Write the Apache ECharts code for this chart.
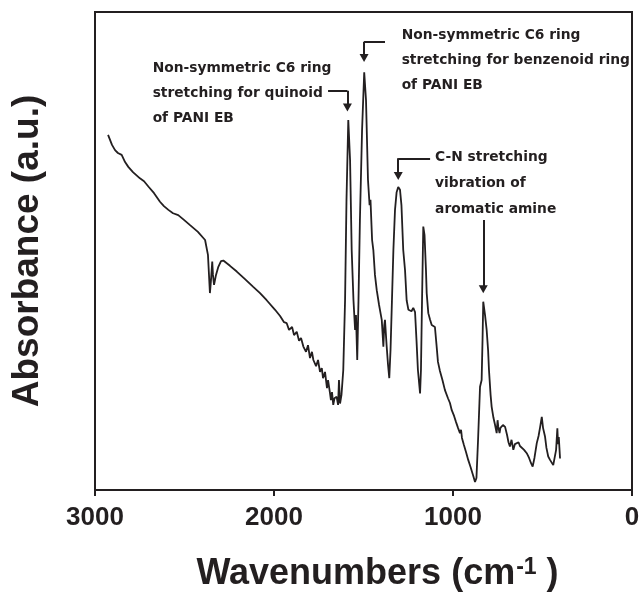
<!DOCTYPE html>
<html><head><meta charset="utf-8">
<script src="https://cdn.jsdelivr.net/npm/echarts@6/dist/echarts.min.js"></script>
<style>html,body{margin:0;padding:0;background:#fff}#c{width:641px;height:592px}</style>
</head><body><div id="c"></div>
<script>
// FTIR spectrum of PANI EB (wavenumber in cm^-1, absorbance in arbitrary units)
const wavenumbers = [2927,2905,2888,2872,2851,2832,2814,2788,2749,2726,2702,2670,2637,2615,2590,2564,2535,2503,2469,2425,2385,2376,2369,2358,2352,2345,2341,2335,2324,2311,2296,2283,2246,2208,2162,2116,2078,2041,1994,1966,1944,1929,1916,1899,1888,1873,1860,1849,1836,1821,1810,1799,1788,1780,1765,1754,1743,1733,1726,1715,1704,1698,1687,1682,1676,1669,1662,1650,1642,1637,1631,1623,1613,1603,1595,1585,1575,1566,1556,1547,1542,1535,1528,1520,1508,1496,1486,1475,1466,1461,1452,1445,1436,1426,1413,1398,1389,1384,1380,1371,1363,1356,1349,1341,1333,1324,1315,1306,1296,1288,1278,1268,1259,1249,1240,1232,1222,1212,1204,1196,1184,1179,1173,1166,1159,1151,1147,1138,1128,1119,1110,1101,1092,1084,1073,1059,1045,1028,1017,1007,994,983,972,961,955,950,939,927,915,902,888,877,869,860,849,840,835,831,821,812,804,799,790,784,774,765,756,751,747,740,735,728,721,709,698,690,682,673,663,654,644,634,626,616,603,588,575,564,555,545,532,522,514,504,497,486,478,468,458,450,440,430,424,417,413,409,406,402];
const absorbance = [74.3,72.2,71.1,70.5,70.1,68.6,67.6,66.5,65.2,64.6,63.5,62.1,60.3,59.4,58.6,57.9,57.5,56.5,55.4,54.0,52.3,51.9,49.2,41.2,43.9,47.8,45.0,42.9,45.0,46.7,47.9,48.0,46.9,45.7,44.1,42.5,41.2,39.7,37.7,36.4,35.1,34.9,33.5,34.1,32.4,33.1,31.2,31.8,30.0,28.9,30.3,27.6,28.9,27.2,25.9,27.2,24.7,25.5,23.4,24.7,21.3,23.0,20.2,18.8,20.5,17.8,19.2,19.5,17.8,23.0,18.1,19.9,25.1,39.7,60.7,77.4,69.0,50.2,39.7,33.5,36.6,27.2,39.7,56.5,75.3,87.4,81.6,64.9,59.6,60.7,52.3,50.2,45.0,41.8,38.7,35.6,30.0,34.5,35.6,30.3,26.2,23.4,29.3,39.7,50.2,58.6,62.3,63.4,62.8,59.6,50.2,46.0,39.7,37.7,38.1,37.4,38.1,37.2,31.4,25.1,20.2,25.1,39.7,55.1,53.3,46.0,41.2,37.0,35.6,34.5,34.9,34.1,30.3,26.8,24.9,23.0,20.9,19.2,18.2,16.7,15.5,14.2,13.0,11.9,12.6,10.9,9.4,7.9,6.3,4.8,3.1,1.7,2.5,10.5,21.6,23.0,31.4,39.4,36.6,33.5,29.3,25.1,19.9,17.4,15.1,13.6,11.9,14.6,13.2,11.9,13.0,12.6,13.6,13.2,11.5,10.0,9.1,10.5,8.4,9.6,9.8,10.0,9.2,9.1,8.4,7.7,6.7,5.6,4.9,6.7,9.8,11.3,13.0,15.3,13.0,11.2,8.8,7.0,6.3,5.9,5.2,4.9,8.4,12.9,9.6,11.1,11.2,6.6];
const xTickValues = [3000, 2000, 1000, 0];

// Annotations (anchor = top-left of text block, in data units)
const annotationLabels = [
  'Non-symmetric C6 ring\nstretching for quinoid\nof PANI EB',
  'Non-symmetric C6 ring\nstretching for benzenoid ring\nof PANI EB',
  'C-N stretching\nvibration of\naromatic amine'
];
const annotationX = [2678, 1287, 1100];
const annotationY = [90.9, 97.8, 72.4];
const annotationLineHeights = [25, 25, 26.3];
// Arrow polylines in data units (last point gets arrowhead)
const arrowPaths = [
  [[1698, 83.5], [1590, 83.5], [1590, 80.0]],
  [[1380, 93.8], [1497, 93.8], [1497, 90.4]],
  [[1128, 69.4], [1306, 69.4], [1306, 65.7]],
  [[831, 56.5], [831, 42.0]]
];

const ink = '#231f20';
const seriesData = wavenumbers.map((w, i) => [w, absorbance[i]]);

const markSegments = [];
arrowPaths.forEach(path => {
  for (let i = 0; i < path.length - 1; i++) {
    const last = i === path.length - 2;
    markSegments.push([
      { coord: path[i], symbol: 'none' },
      { coord: path[i + 1], symbol: last ? 'triangle' : 'none', symbolSize: last ? [9, 8] : 0 }
    ]);
  }
});

const chart = echarts.init(document.getElementById('c'), null, { renderer: 'canvas' });
chart.setOption({
  animation: false,
  backgroundColor: '#fff',
  grid: { left: 95, right: 9, top: 12, bottom: 102, containLabel: false, outerBoundsMode: 'none', show: true, borderColor: ink, borderWidth: 2, backgroundColor: 'transparent' },
  xAxis: {
    type: 'value', inverse: true, min: 0, max: 3000, interval: 1000,
    axisLine: { show: true, lineStyle: { color: ink, width: 2 } },
    axisTick: { show: true, inside: false, length: 6, lineStyle: { color: ink, width: 2 } },
    splitLine: { show: false },
    axisLabel: {
      margin: 15, color: ink, fontFamily: 'Liberation Sans', fontWeight: 'bold', fontSize: 26,
      formatter: v => xTickValues.includes(v) ? String(v) : ''
    },
    name: '{m|Wavenumbers (cm}{s|-1}{m| )}',
    nameLocation: 'middle', nameGap: 66,
    nameTextStyle: {
      padding: [0, 0, 0, 28],
      rich: {
        m: { fontFamily: 'Liberation Sans', fontWeight: 'bold', fontSize: 36, color: ink },
        s: { fontFamily: 'Liberation Sans', fontWeight: 'bold', fontSize: 23, color: ink, verticalAlign: 'top', padding: [0, 0, 0, 1] }
      }
    }
  },
  yAxis: {
    type: 'value', min: 0, max: 100,
    axisLine: { show: true, lineStyle: { color: ink, width: 2 } },
    axisTick: { show: false }, axisLabel: { show: false }, splitLine: { show: false },
    name: 'Absorbance (a.u.)', nameLocation: 'middle', nameGap: 49, nameRotate: 90,
    nameTextStyle: { fontFamily: 'Liberation Sans', fontWeight: 'bold', fontSize: 37, color: ink }
  },
  series: [{
    type: 'line', name: 'PANI EB', data: seriesData, showSymbol: false, symbol: 'none',
    lineStyle: { color: ink, width: 1.8 }, smooth: false,
    markLine: {
      silent: true, animation: false, symbol: ['none', 'none'],
      lineStyle: { color: ink, width: 2, type: 'solid' },
      label: { show: false },
      emphasis: { disabled: true },
      data: markSegments
    }
  }]
});

const texts = annotationLabels.map((t, i) => {
  const p = chart.convertToPixel({ gridIndex: 0 }, [annotationX[i], annotationY[i]]);
  return {
    type: 'text', x: p[0], y: p[1], silent: true,
    style: { text: t, fill: ink, font: 'bold 13.8px "DejaVu Sans"', lineHeight: annotationLineHeights[i], verticalAlign: 'top', align: 'left' }
  };
});
chart.setOption({ graphic: texts });
</script></body></html>
